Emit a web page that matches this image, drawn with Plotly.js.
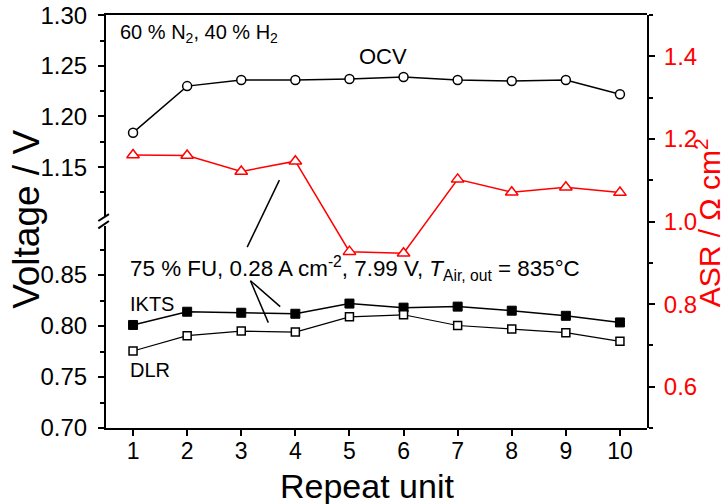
<!DOCTYPE html>
<html>
<head>
<meta charset="utf-8">
<script src="https://cdn.plot.ly/plotly-3.0.1.min.js"></script>
<style>html,body{margin:0;padding:0;background:#fff;}#chart{width:725px;height:504px;}</style>
</head>
<body>
<div id="chart"></div>
<script>
// Data
const repeatUnits = [1, 2, 3, 4, 5, 6, 7, 8, 9, 10];
const ocvVoltage = [1.184, 1.230, 1.236, 1.236, 1.237, 1.239, 1.236, 1.235, 1.236, 1.222];
const asrValues = [1.161, 1.160, 1.121, 1.146, 0.927, 0.923, 1.102, 1.071, 1.083, 1.070];
const iktsVoltage = [0.801, 0.814, 0.813, 0.812, 0.822, 0.818, 0.819, 0.815, 0.810, 0.8035];
const dlrVoltage = [0.7755, 0.7905, 0.795, 0.794, 0.809, 0.811, 0.8005, 0.797, 0.7935, 0.785];

const FONT = 'Liberation Sans, Arial, sans-serif';
const RED = '#ff0000';

const traces = [
  {x: repeatUnits, y: ocvVoltage, xaxis: 'x2', yaxis: 'y2', mode: 'lines+markers',
   line: {color: '#000', width: 1.5},
   marker: {symbol: 'circle', size: 9, color: '#fff', line: {color: '#000', width: 1.5}}},
  {x: repeatUnits, y: iktsVoltage, xaxis: 'x', yaxis: 'y', mode: 'lines+markers',
   line: {color: '#000', width: 1.5},
   marker: {symbol: 'square', size: 9, color: '#000', line: {color: '#000', width: 1}}},
  {x: repeatUnits, y: dlrVoltage, xaxis: 'x', yaxis: 'y', mode: 'lines+markers',
   line: {color: '#000', width: 1.2},
   marker: {symbol: 'square', size: 8, color: '#fff', line: {color: '#000', width: 1.5}}},
  {x: repeatUnits, y: asrValues, xaxis: 'x', yaxis: 'y3', mode: 'lines+markers',
   line: {color: RED, width: 1.5},
   marker: {symbol: 'triangle-up', size: 11, color: '#fff', line: {color: RED, width: 1.5}}}
];

const tickFont = {family: FONT, size: 24, color: '#000'};

const layout = {
  width: 725, height: 504,
  margin: {l: 106, r: 78, t: 15, b: 76},
  paper_bgcolor: '#fff', plot_bgcolor: 'rgba(0,0,0,0)',
  showlegend: false,
  font: {family: FONT, color: '#000'},
  xaxis: {
    domain: [0, 1], anchor: 'y', range: [0.5, 10.5],
    tickmode: 'linear', tick0: 1, dtick: 1,
    ticks: 'outside', ticklen: 6, tickwidth: 2, tickcolor: '#000',
    showline: true, linewidth: 2, linecolor: '#000',
    showgrid: false, zeroline: false, tickfont: {family: FONT, size: 23, color: '#000'}, ticklabelstandoff: -5
  },
  xaxis2: {
    domain: [0, 1], anchor: 'y2', side: 'top', matches: 'x', range: [0.5, 10.5],
    showticklabels: false, ticks: '', showline: true, linewidth: 2, linecolor: '#000',
    showgrid: false, zeroline: false
  },
  yaxis: {
    domain: [0, 0.489], anchor: 'x', range: [0.70, 0.898],
    tickmode: 'linear', tick0: 0.70, dtick: 0.05, tickformat: '.2f',
    ticks: 'outside', ticklen: 6, tickwidth: 2, tickcolor: '#000',
    minor: {dtick: 0.025, tick0: 0.70, ticks: 'outside', ticklen: 4, tickwidth: 2, tickcolor: '#000'},
    showline: true, linewidth: 2, linecolor: '#000',
    showgrid: false, zeroline: false, tickfont: tickFont, ticklabelstandoff: 6
  },
  yaxis2: {
    domain: [0.511, 1], anchor: 'x2', range: [1.1008, 1.3002],
    tickmode: 'linear', tick0: 1.15, dtick: 0.05, tickformat: '.2f',
    ticks: 'outside', ticklen: 6, tickwidth: 2, tickcolor: '#000',
    minor: {dtick: 0.025, tick0: 1.10, ticks: 'outside', ticklen: 4, tickwidth: 2, tickcolor: '#000'},
    showline: true, linewidth: 2, linecolor: '#000',
    showgrid: false, zeroline: false, tickfont: tickFont, ticklabelstandoff: 6
  },
  yaxis3: {
    domain: [0, 1], anchor: 'x', side: 'right', range: [0.5, 1.5],
    tickmode: 'linear', tick0: 0.6, dtick: 0.2, tickformat: '.1f',
    ticks: 'outside', ticklen: 6, tickwidth: 2, tickcolor: '#000',
    minor: {dtick: 0.1, tick0: 0.5, ticks: 'outside', ticklen: 4, tickwidth: 2, tickcolor: '#000'},
    showline: true, linewidth: 2, linecolor: '#000',
    showgrid: false, zeroline: false,
    tickfont: {family: FONT, size: 24, color: RED}, ticklabelstandoff: 4
  },
  shapes: [
    // axis break marks
    {type: 'line', xref: 'paper', yref: 'paper', x0: -0.0142, y0: 0.5012, x1: 0.0055, y1: 0.518, line: {color: '#000', width: 2}},
    {type: 'line', xref: 'paper', yref: 'paper', x0: -0.0142, y0: 0.4835, x1: 0.0055, y1: 0.5012, line: {color: '#000', width: 2}},
    // pointer lines of the operating-point note
    {type: 'line', xref: 'x', yref: 'y', x0: 3.17, y0: 0.8444, x1: 3.72, y1: 0.819, line: {color: '#000', width: 1.5}},
    {type: 'line', xref: 'x', yref: 'y', x0: 3.17, y0: 0.8444, x1: 3.50, y1: 0.8033, line: {color: '#000', width: 1.5}},
    {type: 'line', xref: 'x', yref: 'y3', x0: 3.705, y0: 1.100, x1: 3.11, y1: 0.938, line: {color: '#000', width: 1.5}}
  ],
  annotations: [
    {xref: 'paper', yref: 'paper', x: 0.0222, y: 0.956, xanchor: 'left', yanchor: 'middle', showarrow: false,
     text: '60 % N<sub>2</sub>, 40 % H<sub>2</sub>', font: {family: FONT, size: 20, color: '#000'}},
    {xref: 'paper', yref: 'paper', x: 0.512, y: 0.900, xanchor: 'center', yanchor: 'middle', showarrow: false,
     text: 'OCV', font: {family: FONT, size: 22, color: '#000'}},
    {xref: 'paper', yref: 'paper', x: 0.0407, y: 0.385, xanchor: 'left', yanchor: 'middle', showarrow: false,
     text: '75 % FU, 0.28 A cm<sup>-2</sup>, 7.99 V, <i>T</i><sub>Air, out</sub> = 835°C', font: {family: FONT, size: 22.4, color: '#000'}},
    {xref: 'paper', yref: 'paper', x: 0.0407, y: 0.300, xanchor: 'left', yanchor: 'middle', showarrow: false,
     text: 'IKTS', font: {family: FONT, size: 20, color: '#000'}},
    {xref: 'paper', yref: 'paper', x: 0.0407, y: 0.1416, xanchor: 'left', yanchor: 'middle', showarrow: false,
     text: 'DLR', font: {family: FONT, size: 20, color: '#000'}},
    {xref: 'paper', yref: 'paper', x: -0.146, y: 0.504, xanchor: 'center', yanchor: 'middle', showarrow: false,
     textangle: -90, text: 'Voltage / V', font: {family: FONT, size: 37, color: '#000'}},
    {xref: 'paper', yref: 'paper', x: 1.112, y: 0.497, xanchor: 'center', yanchor: 'middle', showarrow: false,
     textangle: -90, text: 'ASR / Ω cm<sup>2</sup>', font: {family: FONT, size: 30, color: RED}},
    {xref: 'paper', yref: 'paper', x: 0.4824, y: -0.140, xanchor: 'center', yanchor: 'middle', showarrow: false,
     text: 'Repeat unit', font: {family: FONT, size: 34, color: '#000'}}
  ]
};

Plotly.newPlot('chart', traces, layout, {staticPlot: true, displayModeBar: false});
</script>
</body>
</html>
